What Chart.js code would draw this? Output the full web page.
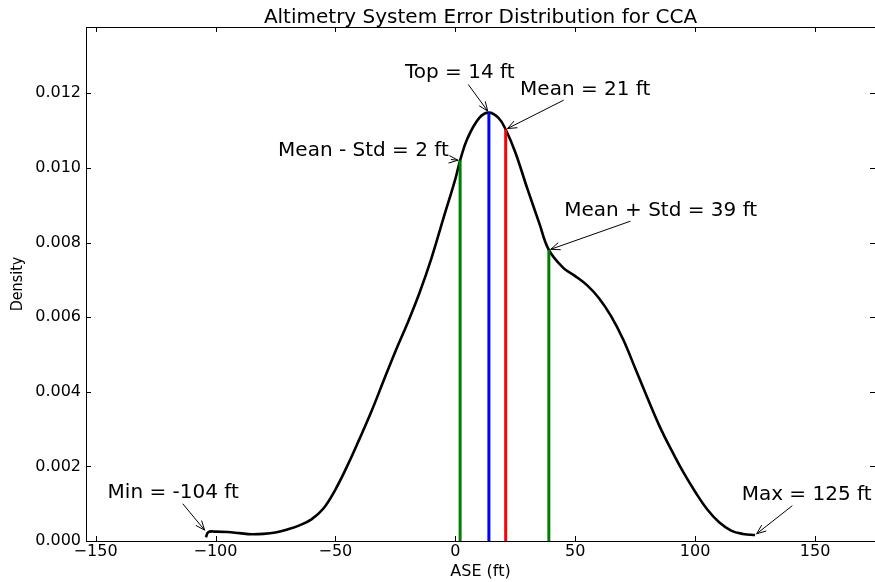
<!DOCTYPE html>
<html>
<head>
<meta charset="utf-8">
<script src="https://cdn.jsdelivr.net/npm/chart.js@4.4.0/dist/chart.umd.min.js"></script>
<style>
  html, body { margin: 0; padding: 0; background: #fff; }
  canvas { display: block; }
</style>
</head>
<body>
<canvas id="chart" width="875" height="582"></canvas>
<script>
// density curve (ASE in ft, density)
const densityX = [-104, -103, -100, -95, -90, -85, -80, -75, -70, -65, -60, -55, -50, -45, -40,
  -35, -30, -25, -20, -15, -10, -5, 0, 2, 5, 10, 14, 18, 21, 25, 30, 35, 39, 45, 50, 55, 60,
  65, 70, 75, 80, 85, 90, 95, 100, 105, 110, 115, 120, 125];
const densityY = [0.00010, 0.00024, 0.00025, 0.00024, 0.00021, 0.00018, 0.00019, 0.00023, 0.00031,
  0.00042, 0.00058, 0.00087, 0.00138, 0.00202, 0.00273, 0.00347, 0.00428, 0.00508, 0.00583,
  0.00664, 0.00757, 0.00864, 0.00970, 0.01020, 0.01078, 0.01134, 0.01148, 0.01134, 0.01103,
  0.01042, 0.00945, 0.00852, 0.00780, 0.00732, 0.00710, 0.00685, 0.00650, 0.00602, 0.00540,
  0.00463, 0.00385, 0.00310, 0.00245, 0.00185, 0.00132, 0.00085, 0.00050, 0.00028, 0.00019,
  0.00016];

// statistics that get annotated
const statLabels = ['Min', 'Mean - Std', 'Top', 'Mean', 'Mean + Std', 'Max'];
const statValues = [-104, 2, 14, 21, 39, 125];
const statDensity = [0.00025, 0.01020, 0.01148, 0.01103, 0.00780, 0.00016];

// vertical marker lines (index into the stats above)
const markerStats = [1, 2, 3, 4];
const markerColors = ['#008000', '#0000ff', '#ff0000', '#008000'];

const xTicks = [-150, -100, -50, 0, 50, 100, 150];
const yTicks = [0, 0.002, 0.004, 0.006, 0.008, 0.010, 0.012];

const FONT = 'DejaVu Sans';

function drawArrow(ctx, sx, sy, tx, ty) {
  const ang = Math.atan2(ty - sy, tx - sx);
  const hl = 10, spread = 22 * Math.PI / 180;
  ctx.beginPath();
  ctx.moveTo(sx, sy);
  ctx.lineTo(tx, ty);
  ctx.moveTo(tx - hl * Math.cos(ang - spread), ty - hl * Math.sin(ang - spread));
  ctx.lineTo(tx, ty);
  ctx.lineTo(tx - hl * Math.cos(ang + spread), ty - hl * Math.sin(ang + spread));
  ctx.stroke();
}

const decorPlugin = {
  id: 'decor',
  afterDraw(chart, args, opts) {
    const {ctx, chartArea: a, scales: {x, y}} = chart;
    ctx.save();
    ctx.strokeStyle = '#000';
    ctx.fillStyle = '#000';
    ctx.lineWidth = 1;

    // frame and inward ticks on every side
    ctx.strokeRect(a.left + 0.5, a.top + 0.5, a.right - a.left, a.bottom - a.top);
    ctx.beginPath();
    xTicks.forEach(v => {
      const px = Math.round(x.getPixelForValue(v)) + 0.5;
      ctx.moveTo(px, a.bottom); ctx.lineTo(px, a.bottom - 5);
      ctx.moveTo(px, a.top); ctx.lineTo(px, a.top + 5);
    });
    yTicks.forEach(v => {
      const py = Math.round(y.getPixelForValue(v)) + 0.5;
      ctx.moveTo(a.left, py); ctx.lineTo(a.left + 5, py);
      ctx.moveTo(a.right, py); ctx.lineTo(a.right - 5, py);
    });
    ctx.stroke();

    const cx = (a.left + a.right) / 2;
    ctx.textBaseline = 'alphabetic';
    ctx.textAlign = 'center';
    ctx.font = '20px "' + FONT + '"';
    ctx.fillText(opts.title, cx, 23);
    ctx.font = '16px "' + FONT + '"';
    ctx.fillText(opts.xTitle, cx, 576);
    ctx.save();
    ctx.translate(22, (a.top + a.bottom) / 2);
    ctx.rotate(-Math.PI / 2);
    ctx.font = '16px "DejaVu Sans Condensed", "' + FONT + '"';
    ctx.fillText(opts.yTitle, 0, 0);
    ctx.restore();

    // annotations with arrows
    ctx.font = '20px "' + FONT + '"';
    ctx.textAlign = 'left';
    statLabels.forEach((lab, i) => {
      const text = lab + ' = ' + statValues[i] + ' ft';
      const bx = x.getPixelForValue(opts.textAt[i][0]);
      const by = y.getPixelForValue(opts.textAt[i][1]);
      ctx.fillText(text, bx, by);
      const w = ctx.measureText(text).width;
      const box = {l: bx, r: bx + w, t: by - 15.5, b: by + 4.5};
      const c = {x: (box.l + box.r) / 2, y: (box.t + box.b) / 2};
      const tx = x.getPixelForValue(statValues[i]);
      const ty = y.getPixelForValue(statDensity[i]);
      const dx = tx - c.x, dy = ty - c.y;
      const len = Math.hypot(dx, dy);
      const ux = dx / len, uy = dy / len;
      const tX = dx > 0 ? (box.r - c.x) / dx : (box.l - c.x) / dx;
      const tY = dy > 0 ? (box.b - c.y) / dy : (box.t - c.y) / dy;
      const t = Math.min(Math.abs(tX), Math.abs(tY));
      const sx = c.x + dx * t + ux * 2, sy = c.y + dy * t + uy * 2;
      const ex = tx - ux * 2, ey = ty - uy * 2;
      drawArrow(ctx, sx, sy, ex, ey);
    });
    ctx.restore();
  }
};

const markerSets = markerStats.map((s, k) => ({
  data: [{x: statValues[s], y: 0}, {x: statValues[s], y: statDensity[s]}],
  borderColor: markerColors[k],
  borderWidth: 3,
  pointRadius: 0,
  fill: false,
  tension: 0,
  order: 0
}));

const curveSet = {
  data: densityX.map((v, i) => ({x: v, y: densityY[i]})),
  borderColor: '#000',
  borderWidth: 2.6,
  pointRadius: 0,
  fill: false,
  tension: 0.4,
  order: 1
};

const tickFont = {family: FONT, size: 16};

new Chart(document.getElementById('chart'), {
  type: 'line',
  data: {datasets: [...markerSets, curveSet]},
  options: {
    responsive: false,
    animation: false,
    events: [],
    layout: {autoPadding: false, padding: {top: 27, left: 0, right: 0, bottom: 0}},
    plugins: {
      legend: {display: false},
      tooltip: {enabled: false},
      decor: {
        title: 'Altimetry System Error Distribution for CCA',
        xTitle: 'ASE (ft)',
        yTitle: 'Density',
        textAt: [[-145, 0.00116], [-73.9, 0.01031], [-21, 0.01240], [27, 0.01196], [45.4, 0.00871], [119.4, 0.00110]]
      }
    },
    scales: {
      x: {
        type: 'linear',
        min: -154,
        max: 175,
        grid: {display: false, drawTicks: false},
        border: {display: false},
        ticks: {
          font: tickFont, color: '#000', padding: 1, maxRotation: 0, autoSkip: false,
          callback: v => String(v).replace('-', '\u2212')
        },
        afterBuildTicks: s => { s.ticks = xTicks.map(v => ({value: v})); },
        afterFit: s => { s.height = 41; }
      },
      y: {
        type: 'linear',
        min: 0,
        max: 0.013776,
        grid: {display: false, drawTicks: false},
        border: {display: false},
        ticks: {
          font: tickFont, color: '#000', padding: 5,
          callback: v => v.toFixed(3)
        },
        afterBuildTicks: s => { s.ticks = yTicks.map(v => ({value: v})); },
        afterFit: s => { s.width = 86; }
      }
    }
  },
  plugins: [decorPlugin]
});
</script>
</body>
</html>
